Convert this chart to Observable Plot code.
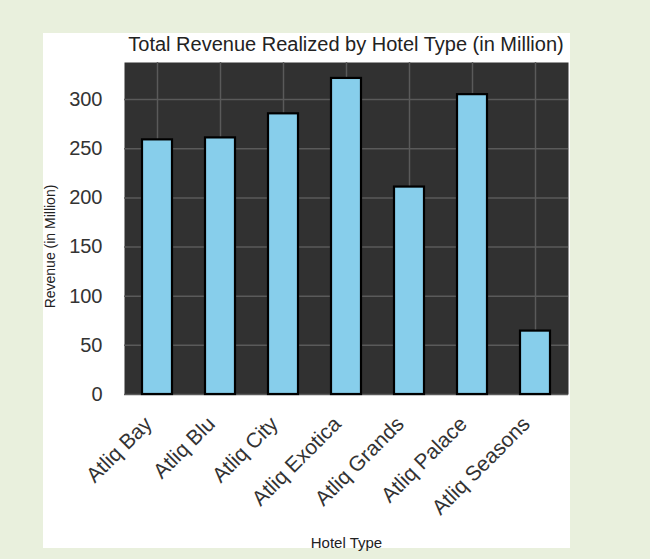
<!DOCTYPE html>
<html>
<head>
<meta charset="utf-8">
<script src="https://cdn.jsdelivr.net/npm/d3@7"></script>
<script src="https://cdn.jsdelivr.net/npm/@observablehq/plot@0.6"></script>
<style>
  html, body { margin: 0; padding: 0; }
  body { width: 650px; height: 559px; background: #e9f0dd; position: relative; overflow: hidden; font-family: "Liberation Sans", Arial, sans-serif; }
  #panel { position: absolute; left: 43px; top: 33px; width: 527px; height: 515px; background: #ffffff; }
  #title { height: 29px; margin-left: 81px; margin-right: 2px; text-align: center; font-size: 20px; line-height: 22px; color: #222; white-space: nowrap; }
  #chart svg { display: block; }
</style>
</head>
<body>
<div id="panel">
  <div id="title">Total Revenue Realized by Hotel Type (in Million)</div>
  <div id="chart"></div>
</div>
<script>
const hotels = ["Atliq Bay", "Atliq Blu", "Atliq City", "Atliq Exotica", "Atliq Grands", "Atliq Palace", "Atliq Seasons"];
const revenue = [259, 261, 285.5, 321.5, 211, 305, 64.5];
const yTicks = [0, 50, 100, 150, 200, 250, 300];

const data = hotels.map((h, i) => ({hotel: h, revenue: revenue[i]}));

const chart = Plot.plot({
  width: 527,
  height: 486,
  marginTop: 0,
  marginLeft: 81,
  marginRight: 2,
  marginBottom: 154,
  style: {fontFamily: "'Liberation Sans', Arial, sans-serif", background: "transparent", overflow: "visible"},
  x: {domain: hotels, paddingInner: 0.53, paddingOuter: 0.265, label: null},
  y: {domain: [0, 337.7], label: null},
  marks: [
    Plot.frame({fill: "#313131", stroke: null}),
    Plot.gridY(yTicks, {stroke: "#5a5a5a", strokeOpacity: 1, strokeWidth: 1.5}),
    Plot.gridX({stroke: "#5a5a5a", strokeOpacity: 1, strokeWidth: 1.5}),
    Plot.barY(data, {x: "hotel", y: "revenue", fill: "#87ceeb", stroke: "#000", strokeWidth: 2.2}),
    Plot.axisY(yTicks, {tickSize: 0, tickPadding: 22, fontSize: 20, fill: "#333", label: null}),
    Plot.axisX({tickSize: 0, tickRotate: -45, tickPadding: 26, dx: -9, fontSize: 21, fill: "#333", label: null}),
    Plot.text(["Hotel Type"], {frameAnchor: "bottom", dy: 153, fontSize: 15, fill: "#222"}),
    Plot.text(["Revenue (in Million)"], {frameAnchor: "left", textAnchor: "middle", dx: -74, dy: 18, rotate: -90, fontSize: 14, fill: "#222"})
  ]
});
document.getElementById("chart").appendChild(chart);
</script>
</body>
</html>
